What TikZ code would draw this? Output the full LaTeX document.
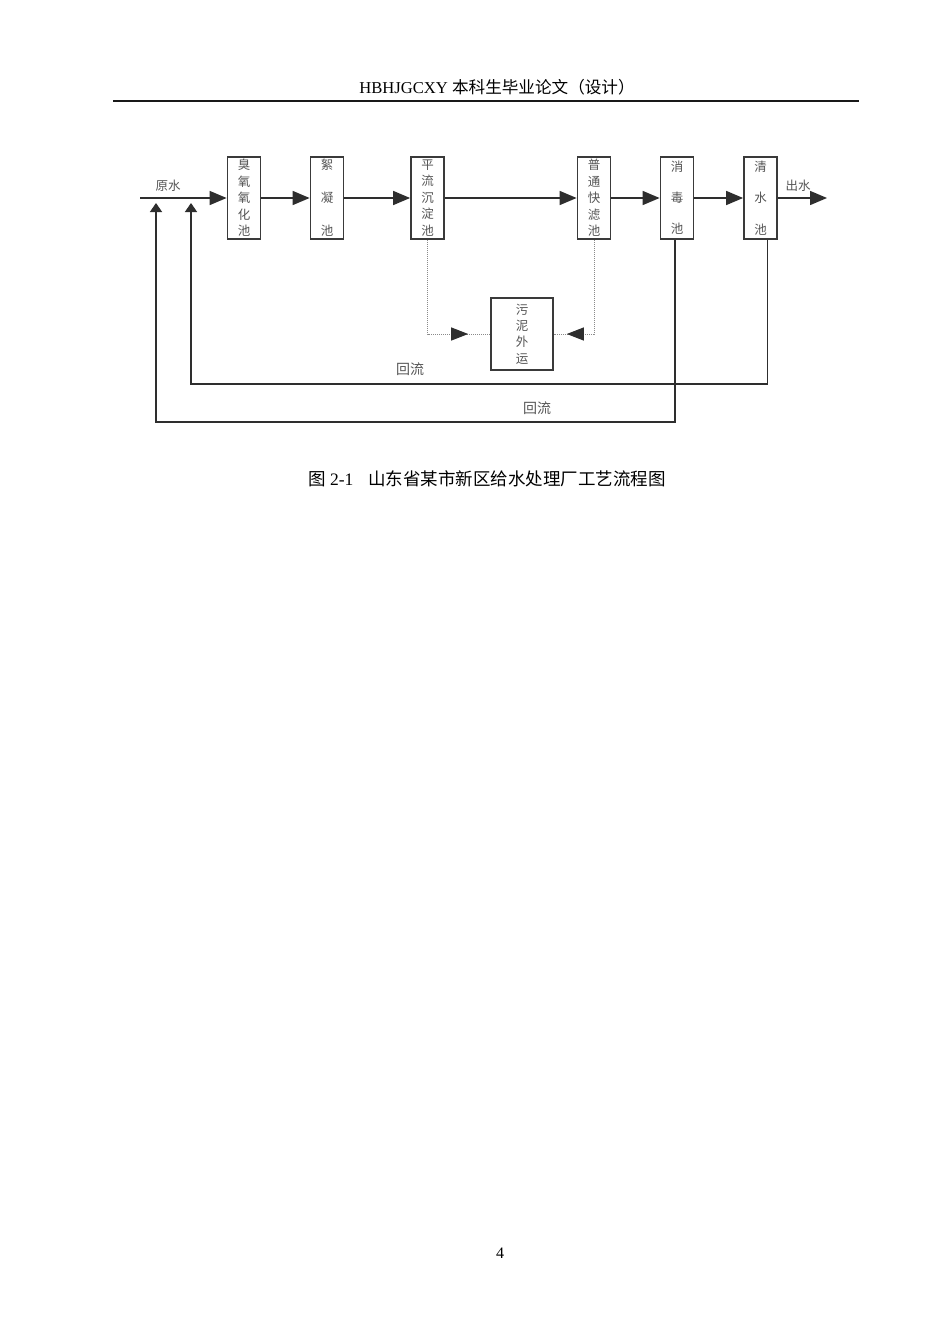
\documentclass[tikz,border=0pt]{standalone}
\usepackage{fontspec}
\setmainfont{Liberation Serif}
\newfontfamily\cjk{Noto Sans CJK SC}
\usetikzlibrary{arrows.meta,decorations.markings}
\definecolor{boxc}{HTML}{3A3A3A}
\definecolor{linec}{HTML}{2E2E2E}
\definecolor{txtc}{HTML}{555555}
\definecolor{dotc}{HTML}{8A8A8A}
\begin{document}
\begin{tikzpicture}[x=1pt,y=-1pt,
  pool/.style={draw=boxc,line width=1.8pt,minimum width=33pt,minimum height=82pt,inner sep=0pt,align=center,text=txtc,font=\cjk\fontsize{12.5}{16.5}\selectfont},
  poolwide/.style={pool,font=\cjk\fontsize{12.5}{33}\selectfont},
  sludgebox/.style={draw=boxc,line width=1.6pt,minimum width=62pt,minimum height=72pt,inner sep=0pt,align=center,text=txtc,font=\cjk\fontsize{12.5}{16.3}\selectfont},
  flow/.style={draw=linec,line width=1.5pt,-{Triangle[length=17pt,width=14pt]}},
  retline/.style={draw=linec,line width=1.4pt,-{Triangle[length=9pt,width=12pt]}},
  sludgeline/.style={draw=dotc,line width=1pt,densely dotted},
  lbl/.style={text=txtc,inner sep=0pt,font=\cjk\fontsize{12.5}{14}\selectfont},
  lblbig/.style={text=txtc,inner sep=0pt,font=\cjk\fontsize{14}{16}\selectfont}
]
\fill[white] (0,0) rectangle (950,1344);
\useasboundingbox (0,0) rectangle (950,1344);

% header
\node[inner sep=0pt,font=\fontsize{16.6}{19}\selectfont] (hdr) at (497,87) {HBHJGCXY {\cjk 本科生毕业论文（设计）}};
\draw[line width=2pt,black!90] (113,101) -- (859,101);

% pools
\node[pool] (b1) at (244,198) {臭\\氧\\氧\\化\\池};
\node[poolwide] (b2) at (327,198) {絮\\凝\\池};
\node[pool] (b3) at (427.5,198) {平\\流\\沉\\淀\\池};
\node[pool] (b4) at (594,198) {普\\通\\快\\滤\\池};
\node[poolwide,font=\cjk\fontsize{12.5}{31}\selectfont] (b5) at (677,198) {消\\毒\\池};
\node[poolwide,font=\cjk\fontsize{12.5}{31.5}\selectfont] (b6) at (760.5,198) {清\\水\\池};
\node[sludgebox] (s) at (522,334) {污\\泥\\外\\运};

% free ends
\coordinate (in) at (140,198);
\coordinate (out) at (827,198);
\coordinate (ret1) at (191,203);
\coordinate (ret2) at (156,203);
\coordinate (c1) at (191,384);
\coordinate (c2) at (156,422);

% main flow
\draw[flow] (in) -- (b1);
\draw[flow] (b1) -- (b2);
\draw[flow] (b2) -- (b3);
\draw[flow] (b3) -- (b4);
\draw[flow] (b4) -- (b5);
\draw[flow] (b5) -- (b6);
\draw[flow] (b6) -- (out);

% returns
\draw[retline] ([xshift=7pt]b6.south) |- (c1) -- (ret1);
\draw[retline] ([xshift=-2pt]b5.south) |- (c2) -- (ret2);

% sludge
\draw[sludgeline,postaction={decorate,decoration={markings,mark=at position -22pt with {\arrow[solid,linec]{Triangle[length=17pt,width=13pt]}}}}] (b3.south) |- (s.west);
\draw[sludgeline,postaction={decorate,decoration={markings,mark=at position -13pt with {\arrow[solid,linec]{Triangle[length=17pt,width=13pt]}}}}] (b4.south) |- (s.east);

% labels
\node[lbl] (l1) at (168,186) {原水};
\node[lbl] (l2) at (798,186) {出水};
\node[lblbig] (l3) at (410,369) {回流};
\node[lblbig] (l4) at (537,408) {回流};

% caption
\node[inner sep=0pt,font=\fontsize{17.5}{20}\selectfont] (cap) at (487,479) {{\cjk 图} 2-1\hspace{15pt}{\cjk 山东省某市新区给水处理厂工艺流程图}};

% page number
\node[inner sep=0pt,font=\fontsize{16}{19}\selectfont] (pg) at (500,1253) {4};
\end{tikzpicture}
\end{document}
